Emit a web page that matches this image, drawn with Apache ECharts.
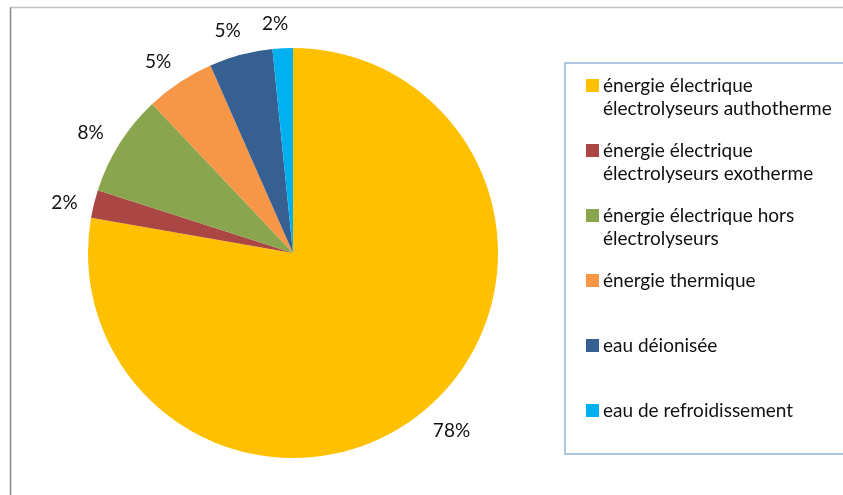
<!DOCTYPE html>
<html>
<head>
<meta charset="utf-8">
<script src="https://cdn.jsdelivr.net/npm/echarts@6/dist/echarts.min.js"></script>
<style>
html,body{margin:0;padding:0;background:#fff;}
#chart{width:843px;height:495px;}
</style>
</head>
<body>
<div id="chart"></div>
<script>
const categories = [
  'énergie électrique\nélectrolyseurs authotherme',
  'énergie électrique\nélectrolyseurs exotherme',
  'énergie électrique hors\nélectrolyseurs',
  'énergie thermique',
  'eau déionisée',
  'eau de refroidissement'
];
const values = [77.75, 2.2, 8.0, 5.45, 5.0, 1.6];
const colors = ['#FFC000', '#AA4643', '#89A54E', '#F79646', '#376092', '#00B0F0'];

const FONT = 'Lato';
const FS = 19;
const rich = {
  t: { fontSize: FS, lineHeight: 23, color: '#111', fontFamily: FONT, padding: [0, 0, 0, 4] },
  p: { width: 13, lineHeight: 23, fontSize: FS }
};
colors.forEach(function (c, i) {
  rich['m' + i] = { width: 13, height: 13, backgroundColor: c, lineHeight: 23, fontSize: 1 };
});

const chart = echarts.init(document.getElementById('chart'), null, { renderer: 'canvas' });
chart.setOption({
  backgroundColor: '#fff',
  animation: false,
  color: colors,
  graphic: [
    { type: 'line', shape: { x1: 10, y1: 7.5, x2: 843, y2: 7.5 }, style: { stroke: '#C4C4C4', lineWidth: 1.5 } },
    { type: 'line', shape: { x1: 10.5, y1: 7.5, x2: 10.5, y2: 495 }, style: { stroke: '#868686', lineWidth: 1.5 } },
    { type: 'rect', shape: { x: 565, y: 63, width: 300, height: 391 }, style: { fill: 'none', stroke: '#95B3D7', lineWidth: 1.5 } }
  ],
  legend: {
    orient: 'vertical',
    left: 581,
    top: 76,
    padding: 0,
    itemWidth: 0,
    itemHeight: 0,
    itemGap: 23,
    selectedMode: false,
    data: categories,
    formatter: function (name) {
      const i = categories.indexOf(name);
      const lines = name.split('\n');
      const l2 = lines[1] || ' ';
      return '{m' + i + '|}{t|' + lines[0] + '}\n{p| }{t|' + l2 + '}';
    },
    textStyle: { rich: rich }
  },
  series: [{
    type: 'pie',
    center: [293, 253],
    radius: 205,
    startAngle: 90,
    clockwise: true,
    avoidLabelOverlap: false,
    data: categories.map(function (n, i) { return { name: n, value: values[i] }; }),
    itemStyle: { borderWidth: 0 },
    label: {
      show: true,
      position: 'outside',
      formatter: function (p) { return Math.round(p.percent) + '%'; },
      fontSize: FS,
      fontFamily: FONT,
      color: '#111',
      distanceToLabelLine: 0
    },
    labelLine: { show: true, length: 10, length2: 0, lineStyle: { opacity: 0 } },
    labelLayout: function (p) {
      const pts = p.labelLinePoints;
      if (!pts || pts.length < 2) return { align: 'center', verticalAlign: 'middle' };
      const dx0 = pts[1][0] - pts[0][0], dy0 = pts[1][1] - pts[0][1];
      const len = Math.hypot(dx0, dy0) || 1;
      const ux0 = dx0 / len, uy0 = dy0 / len;
      const th = 1.6 * Math.PI / 180;
      const ux = ux0 * Math.cos(th) + uy0 * Math.sin(th);
      const uy = -ux0 * Math.sin(th) + uy0 * Math.cos(th);
      const w = p.labelRect.width, h = p.labelRect.height;
      const d = 14 + (w / 2) * Math.abs(ux) + (h / 2) * Math.abs(uy);
      const r = 205;
      const cx = pts[0][0] - ux0 * r, cy = pts[0][1] - uy0 * r;
      return { x: cx + ux * (r + d), y: cy + uy * (r + d), align: 'center', verticalAlign: 'middle' };
    },
    emphasis: { disabled: true }
  }]
});
</script>
</body>
</html>
